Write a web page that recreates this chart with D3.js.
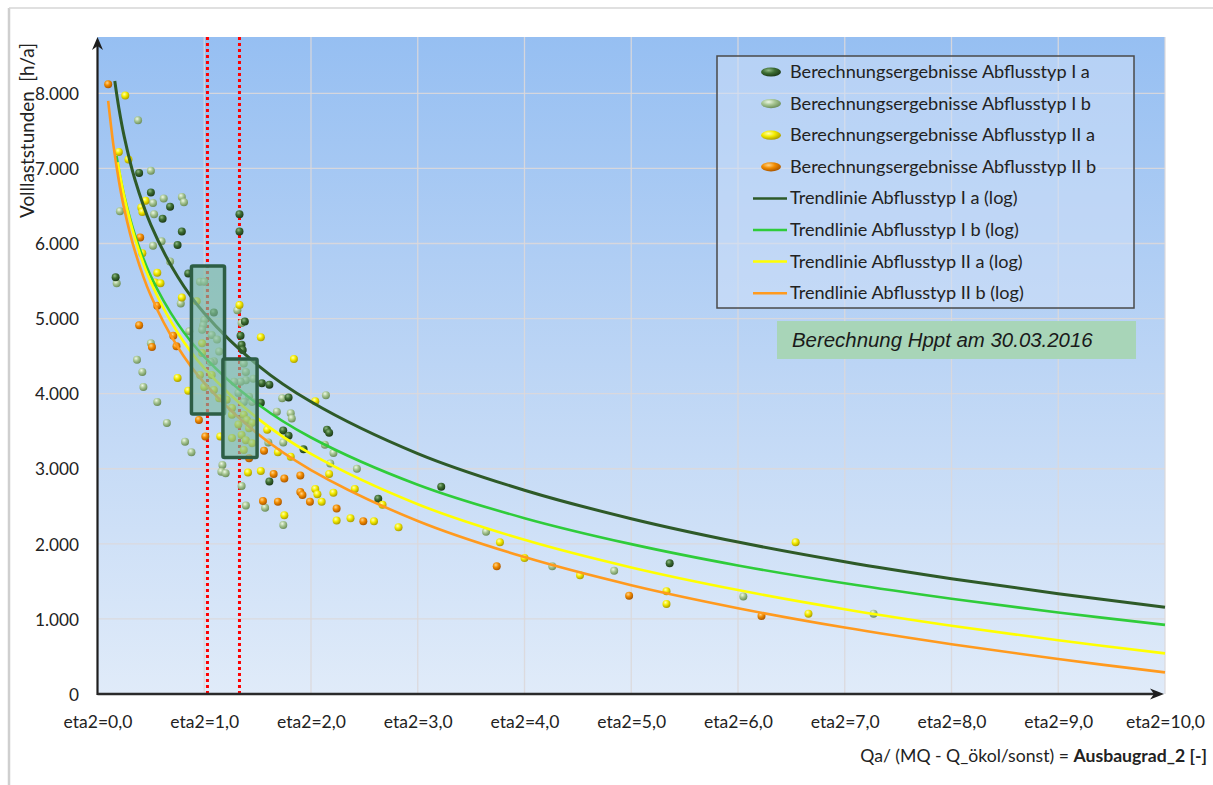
<!DOCTYPE html>
<html><head><meta charset="utf-8">
<script src="https://cdn.jsdelivr.net/npm/d3@7"></script>
<style>
body{margin:0;background:#fff;}
svg{display:block;font-family:Lato,"Noto Sans",sans-serif;}
</style>
</head><body>
<svg id="chart" width="1213" height="785"></svg>
<script>
// ---------- DATA ----------
const xTickValues = [0,1,2,3,4,5,6,7,8,9,10];
const xTickLabels = ["eta2=0,0","eta2=1,0","eta2=2,0","eta2=3,0","eta2=4,0","eta2=5,0","eta2=6,0","eta2=7,0","eta2=8,0","eta2=9,0","eta2=10,0"];
const yTickValues = [0,1000,2000,3000,4000,5000,6000,7000,8000];
const yTickLabels = ["0","1.000","2.000","3.000","4.000","5.000","6.000","7.000","8.000"];

const seriesNames = ["Berechnungsergebnisse Abflusstyp I a","Berechnungsergebnisse Abflusstyp I b","Berechnungsergebnisse Abflusstyp II a","Berechnungsergebnisse Abflusstyp II b"];
const trendNames = ["Trendlinie Abflusstyp I a (log)","Trendlinie Abflusstyp I b (log)","Trendlinie Abflusstyp II a (log)","Trendlinie Abflusstyp II b (log)"];

const pointsIa = [[0.39,6940],[0.50,6680],[0.68,6490],[0.61,6330],[0.79,6160],[0.75,5980],[0.17,5550],[0.85,5600],[1.33,6390],[1.33,6160],[1.09,5080],[1.38,4960],[1.34,4770],[1.35,4650],[1.36,4580],[1.54,4140],[1.61,4120],[1.79,3950],[1.53,3880],[1.74,3510],[1.79,3440],[2.15,3520],[2.17,3480],[1.93,3260],[1.61,2830],[2.63,2600],[3.22,2760],[5.36,1740]];
const pointsIb = [[0.38,7640],[0.50,6970],[0.52,6540],[0.62,6600],[0.79,6620],[0.81,6550],[0.21,6430],[0.53,6390],[0.60,6030],[0.52,5970],[0.68,5760],[0.18,5470],[0.78,5200],[0.50,4670],[0.37,4450],[0.42,4290],[0.43,4090],[0.56,3890],[0.65,3610],[0.82,3360],[0.88,3220],[0.86,4830],[0.96,5490],[1.00,5490],[1.31,5110],[1.35,4940],[1.00,4980],[0.99,4910],[0.98,4850],[1.07,4780],[1.12,4720],[1.14,4560],[1.09,4430],[1.06,4420],[1.37,4400],[1.39,4290],[1.39,4180],[1.34,4160],[1.28,4160],[1.46,4200],[1.32,4010],[1.42,3960],[1.73,3940],[1.81,3740],[1.82,3670],[2.14,3980],[1.68,3760],[1.60,3350],[1.74,3350],[2.13,3320],[2.21,3210],[2.18,3070],[2.43,3000],[1.17,3050],[1.16,2960],[1.20,2940],[1.35,2770],[1.39,2510],[1.57,2480],[1.74,2250],[3.64,2160],[4.26,1700],[4.84,1640],[6.05,1300],[7.27,1070],[1.37,3890],[1.45,3890]];
const pointsIIa = [[0.26,7970],[0.20,7220],[0.29,7120],[0.45,6570],[0.41,6480],[0.42,6420],[0.42,5870],[0.56,5610],[0.54,5480],[0.59,5470],[0.79,5280],[0.75,4210],[0.85,4040],[0.93,5230],[1.33,5180],[1.53,4750],[1.84,4460],[2.04,3900],[0.98,4670],[0.98,4540],[0.96,4250],[1.07,4250],[1.00,4090],[1.09,4050],[1.14,3940],[1.21,3920],[1.26,3810],[1.26,3720],[1.37,3720],[1.40,3650],[1.45,3610],[1.42,3540],[1.35,3450],[1.26,3410],[1.39,3380],[1.45,3340],[1.37,3250],[1.15,3430],[1.59,3520],[1.69,3220],[1.81,3160],[1.41,2950],[1.53,2970],[2.17,2930],[2.04,2730],[2.06,2660],[2.10,2560],[2.21,2680],[2.41,2730],[2.67,2520],[1.75,2380],[2.24,2310],[2.37,2340],[2.59,2300],[2.82,2220],[3.77,2020],[4.00,1810],[4.52,1580],[5.33,1370],[5.33,1200],[6.54,2020],[6.66,1070],[1.32,3590]];
const pointsIIb = [[0.10,8120],[0.40,6080],[0.56,5170],[0.39,4910],[0.51,4620],[0.71,4770],[0.74,4630],[0.95,3650],[1.01,3430],[1.42,3140],[1.56,3240],[1.65,2930],[1.75,2870],[1.90,2910],[1.90,2690],[1.92,2650],[1.99,2560],[1.55,2570],[1.69,2560],[2.24,2470],[2.49,2300],[3.74,1700],[4.98,1310],[6.22,1040]];

// trendlines (x, y)
const trendIaX = [0.162,0.2,0.25,0.35,0.5,0.75,1,1.5,2,3,4,5,6,7,8,9,10];
const trendIaY = [8164,7805,7427,6855,6248,5560,5070,4381,3892,3202,2714,2335,2024,1762,1536,1335,1156];
const trendIbX = [0.178,0.2,0.25,0.35,0.5,0.75,1,1.5,2,3,4,5,6,7,8,9,10];
const trendIbY = [7165,6984,6638,6118,5564,4936,4490,3862,3416,2787,2342,1996,1712,1474,1268,1085,921];
const trendIIaX = [0.19,0.2,0.25,0.35,0.5,0.75,1,1.5,2,3,4,5,6,7,8,9,10];
const trendIIaY = [7081,6995,6627,6073,5483,4815,4340,3671,3197,2527,2053,1685,1384,1129,909,715,541];
const trendIIbX = [0.1,0.15,0.2,0.25,0.35,0.5,0.75,1,1.5,2,3,4,5,6,7,8,9,10];
const trendIIbY = [7900,7300,6836,6464,5901,5303,4625,4143,3465,2983,2304,1823,1449,1143,885,663,465,288];

const markerLinesX = [1.03, 1.33];
const boxesX = [[0.88,1.19],[1.175,1.495]];
const boxesY = [[3730,5700],[3150,4460]];
const noteText = "Berechnung Hppt am 30.03.2016";
const yTitle = "Volllaststunden  [h/a]";
const xTitleNormal = "Qa/ (MQ - Q_ökol/sonst) = ";
const xTitleBold = "Ausbaugrad_2 [-]";

// ---------- STYLE ----------
const sphere = [
  {hi:"#8fb884", base:"#3d6e33", edge:"#1b3816"},
  {hi:"#eef8e6", base:"#a7c693", edge:"#6a8c58"},
  {hi:"#ffffb0", base:"#f4ec00", edge:"#a89a00"},
  {hi:"#ffd58a", base:"#f28c00", edge:"#a85500"}
];
const trendColors = ["#2e5a28","#2fcc3a","#ffff00","#ff9a1e"];

const svg = d3.select("#chart");
const defs = svg.append("defs");
const x = d3.scaleLinear().domain([0,10]).range([97.5,1165]);
const y = d3.scaleLinear().domain([0,8750]).range([694,37]);

// gradients
const bg = defs.append("linearGradient").attr("id","bg").attr("x1",0).attr("y1",0).attr("x2",0).attr("y2",1);
bg.append("stop").attr("offset","0%").attr("stop-color","#96bff2");
bg.append("stop").attr("offset","50%").attr("stop-color","#bcd5f5");
bg.append("stop").attr("offset","100%").attr("stop-color","#e0ebf9");
sphere.forEach((s,i)=>{
  const g = defs.append("radialGradient").attr("id","sph"+i).attr("cx","38%").attr("cy","32%").attr("r","70%");
  g.append("stop").attr("offset","0%").attr("stop-color",s.hi);
  g.append("stop").attr("offset","45%").attr("stop-color",s.base);
  g.append("stop").attr("offset","100%").attr("stop-color",s.edge);
});

// outer frame
svg.append("line").attr("x1",9).attr("x2",9).attr("y1",8).attr("y2",785).attr("stroke","#cfcfcf").attr("stroke-width",2.5);
svg.append("line").attr("x1",9).attr("x2",1213).attr("y1",8).attr("y2",8).attr("stroke","#d6d6d6").attr("stroke-width",1.5);

// plot background
svg.append("rect").attr("x",x(0)).attr("y",y(8750)).attr("width",x(10)-x(0)).attr("height",y(0)-y(8750)).attr("fill","url(#bg)");

// grid
const grid = svg.append("g");
grid.selectAll("line.h").data(yTickValues.filter(v=>v>0)).join("line")
  .attr("x1",x(0)).attr("x2",x(10)).attr("y1",d=>y(d)).attr("y2",d=>y(d))
  .attr("stroke","#dcd8da").attr("stroke-opacity",0.9).attr("stroke-width",1.3);
grid.selectAll("line.v").data(xTickValues.filter(v=>v>0)).join("line")
  .attr("x1",d=>x(d)).attr("x2",d=>x(d)).attr("y1",y(8750)).attr("y2",y(0))
  .attr("stroke","#dcd8da").attr("stroke-opacity",0.9).attr("stroke-width",1.3);

// red dotted lines
svg.append("g").selectAll("line").data(markerLinesX).join("line")
  .attr("x1",d=>x(d)).attr("x2",d=>x(d)).attr("y1",y(8750)).attr("y2",y(0))
  .attr("stroke","#ff0000").attr("stroke-width",3).attr("stroke-dasharray","3,3");

// points
const allPoints = [pointsIa,pointsIb,pointsIIa,pointsIIb];
[1,0,2,3].forEach(i=>{
  svg.append("g").selectAll("circle").data(allPoints[i]).join("circle")
    .attr("cx",d=>x(d[0])).attr("cy",d=>y(d[1])).attr("r",4)
    .attr("fill","url(#sph"+i+")");
});

// trendlines
const trends = [[trendIaX,trendIaY],[trendIbX,trendIbY],[trendIIaX,trendIIaY],[trendIIbX,trendIIbY]];
const line = d3.line().x(d=>x(d[0])).y(d=>y(d[1])).curve(d3.curveCatmullRom.alpha(0.5));
trends.forEach((t,i)=>{
  const pts = t[0].map((v,k)=>[v,t[1][k]]);
  svg.append("path").attr("d",line(pts)).attr("fill","none")
    .attr("stroke",trendColors[i]).attr("stroke-width",i===0?3:2.6);
});

// boxes
svg.append("g").selectAll("rect").data(boxesX).join("rect")
  .attr("x",(d)=>x(d[0])).attr("width",d=>x(d[1])-x(d[0]))
  .attr("y",(d,i)=>y(boxesY[i][1])).attr("height",(d,i)=>y(boxesY[i][0])-y(boxesY[i][1]))
  .attr("rx",1.5)
  .attr("fill","#7fbba0").attr("fill-opacity",0.65)
  .attr("stroke","#2d5e44").attr("stroke-width",3.5);

// axes (labels via d3 axes)
const xAxis = svg.append("g").attr("transform",`translate(0,${y(0)})`)
  .call(d3.axisBottom(x).tickValues(xTickValues).tickFormat((d,i)=>xTickLabels[i]).tickSize(0));
xAxis.select(".domain").remove();
xAxis.selectAll("text").attr("y",34).attr("dy",0).attr("fill","#222").attr("font-size",17.5).attr("font-family","Lato");
const yAxis = svg.append("g").attr("transform",`translate(${x(0)},0)`)
  .call(d3.axisLeft(y).tickValues(yTickValues).tickFormat((d,i)=>yTickLabels[i]).tickSize(0));
yAxis.select(".domain").remove();
yAxis.selectAll("text").attr("x",-18.5).attr("dy","0.36em").attr("fill","#222").attr("font-size",17.5).attr("font-family","Lato");

function fit(sel, target){
  const w = sel.node().getComputedTextLength();
  const fs = parseFloat(sel.attr("font-size"));
  return fs*target/w;
}
const lastX = xAxis.selectAll("text").filter((d,i)=>i===10);
xAxis.selectAll("text").attr("font-size",fit(lastX, 79));
const y8 = yAxis.selectAll("text").filter((d,i)=>i===8);
yAxis.selectAll("text").attr("font-size",fit(y8, 44));

// axis lines with arrows
svg.append("line").attr("x1",x(0)).attr("x2",x(0)).attr("y1",y(0)+1).attr("y2",y(8750)+8)
  .attr("stroke","#1e1e1e").attr("stroke-width",2.2);
svg.append("path").attr("d",`M${x(0)},${y(8750)} l-5.5,13 l5.5,-4 l5.5,4 z`).attr("fill","#1e1e1e");
svg.append("line").attr("x1",x(0)).attr("x2",x(10)-8).attr("y1",y(0)).attr("y2",y(0))
  .attr("stroke","#2a2a2a").attr("stroke-width",2.6);
svg.append("path").attr("d",`M${x(10)-1},${y(0)} l-14,-5.5 l4,5.5 l-4,5.5 z`).attr("fill","#1e1e1e");

// axis titles
const yt = svg.append("text").attr("transform","translate(34,130.5) rotate(-90)")
  .attr("text-anchor","middle").attr("font-size",16).attr("fill","#222").style("white-space","pre").text(yTitle);
yt.attr("font-size",fit(yt,175));

const xt = svg.append("text").attr("x",1207).attr("y",762).attr("text-anchor","end").attr("font-size",17.5).attr("fill","#222");
xt.append("tspan").style("white-space","pre").text(xTitleNormal);
xt.append("tspan").attr("font-weight","bold").text(xTitleBold);
xt.attr("font-size",fit(xt,347));

// legend
const lg = svg.append("g");
lg.append("rect").attr("x",717).attr("y",56).attr("width",417).attr("height",252)
  .attr("fill","#cfe0f7").attr("fill-opacity",0.55).attr("stroke","#4a4a4a").attr("stroke-width",1.5);
const rowsY = d3.range(8).map(i=>72+i*31.6);
const legendTexts = seriesNames.concat(trendNames);
seriesNames.forEach((n,i)=>{
  lg.append("ellipse").attr("cx",771).attr("cy",rowsY[i]).attr("rx",10).attr("ry",4.6).attr("fill","url(#sph"+i+")");
});
trendNames.forEach((n,i)=>{
  lg.append("line").attr("x1",753).attr("x2",787).attr("y1",rowsY[i+4]).attr("y2",rowsY[i+4])
    .attr("stroke",trendColors[i]).attr("stroke-width",2.5);
});
const lts = lg.selectAll("text.lt").data(legendTexts).join("text").attr("class","lt")
  .attr("x",790).attr("y",(d,i)=>rowsY[i]+6).attr("font-size",16.5).attr("fill","#222").text(d=>d);
lts.attr("font-size",fit(lts.filter((d,i)=>i===0), 300));

// note box
svg.append("rect").attr("x",777).attr("y",321).attr("width",359).attr("height",38).attr("fill","#a8d5b8");
const nt = svg.append("text").attr("x",792).attr("y",346.7).attr("font-family","'Liberation Sans',Arial,sans-serif")
  .attr("font-style","italic").attr("font-size",20).attr("fill","#1a1a1a").text(noteText);
nt.attr("font-size",fit(nt,301));
</script>
</body></html>
